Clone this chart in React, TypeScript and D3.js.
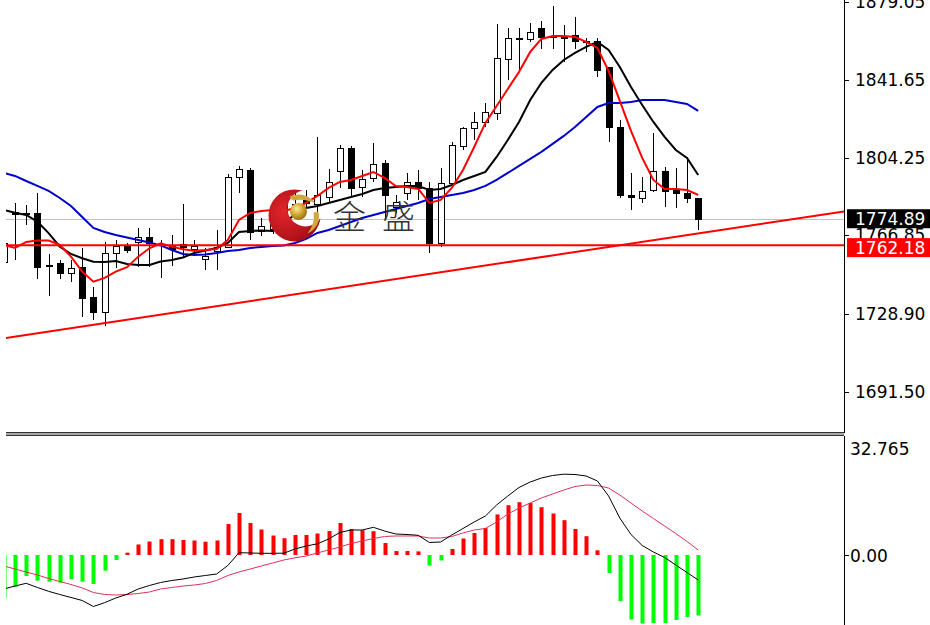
import * as d3 from "d3";

// candle index of the first entry (partly hidden behind the left edge)
const startIndex = -1;

const opens = [
  1754.09, 1778.15, 1777.67, 1777.67, 1752.4, 1753.61, 1748.79, 1751.68, 1737.24, 1730.03,
  1758.42, 1761.79, 1763.71, 1766.12, 1762.51, 1762.27, 1762.75, 1760.34, 1755.53, 1759.38,
  1761.31, 1794.99, 1798.36, 1769.0, 1769.97, 1778.15, 1782.0, 1783.92, 1782.0, 1785.37,
  1797.88, 1808.95, 1790.18, 1794.51, 1801.73, 1780.56, 1787.29, 1792.59, 1789.7, 1763.23,
  1792.11, 1809.91, 1818.57, 1821.46, 1825.79, 1851.78, 1861.64, 1861.4, 1866.7, 1862.6,
  1862.85, 1863.33, 1860.2, 1860.44, 1847.93, 1819.05, 1786.33, 1784.89, 1788.74, 1797.88,
  1788.74, 1787.29, 1784.89,
];
const highs = [
  1764.67, 1782.48, 1781.52, 1787.29, 1757.94, 1755.05, 1755.05, 1760.82, 1742.06, 1763.71,
  1764.67, 1763.23, 1770.45, 1770.45, 1764.67, 1767.08, 1782.0, 1764.67, 1760.82, 1769.49,
  1796.44, 1800.28, 1799.32, 1775.26, 1780.09, 1785.85, 1787.77, 1788.74, 1814.24, 1798.84,
  1810.39, 1809.91, 1798.36, 1811.35, 1803.17, 1786.33, 1796.92, 1798.36, 1792.59, 1799.32,
  1811.84, 1819.05, 1826.27, 1830.6, 1868.62, 1866.7, 1866.7, 1869.1, 1870.06, 1877.28,
  1868.14, 1871.99, 1861.88, 1861.88, 1847.93, 1822.42, 1796.92, 1794.99, 1816.17, 1799.8,
  1799.32, 1804.62, 1784.89,
];
const lows = [
  1752.64, 1755.05, 1771.89, 1745.91, 1737.73, 1745.91, 1744.46, 1727.62, 1726.18, 1723.29,
  1751.2, 1758.42, 1751.68, 1751.68, 1746.39, 1752.16, 1756.5, 1756.98, 1750.24, 1750.24,
  1760.82, 1787.29, 1764.67, 1766.6, 1767.56, 1774.3, 1777.67, 1780.56, 1777.67, 1782.96,
  1789.7, 1785.37, 1785.37, 1792.59, 1774.3, 1777.67, 1783.92, 1783.92, 1758.42, 1761.31,
  1790.18, 1807.99, 1812.8, 1819.05, 1822.42, 1841.67, 1845.52, 1859.96, 1856.59, 1856.59,
  1850.33, 1856.59, 1855.15, 1843.12, 1811.84, 1784.89, 1779.11, 1782.48, 1787.77, 1780.56,
  1780.09, 1782.48, 1769.49,
];
const closes = [
  1763.23, 1777.19, 1777.19, 1751.68, 1751.92, 1748.79, 1751.2, 1736.76, 1730.03, 1758.42,
  1761.79, 1759.86, 1766.12, 1763.23, 1762.03, 1760.34, 1761.31, 1761.79, 1756.98, 1761.31,
  1794.99, 1798.84, 1768.52, 1771.41, 1772.37, 1782.48, 1780.09, 1782.48, 1786.33, 1792.59,
  1808.95, 1789.7, 1794.03, 1801.25, 1786.33, 1782.96, 1792.59, 1789.7, 1763.23, 1792.11,
  1810.39, 1818.57, 1821.46, 1826.27, 1852.26, 1861.88, 1861.16, 1864.77, 1862.36, 1862.12,
  1861.88, 1860.44, 1859.72, 1846.48, 1819.05, 1786.33, 1785.37, 1788.26, 1797.88, 1788.26,
  1787.29, 1784.89, 1774.89,
];

// moving averages (fast red, middle black, slow blue)
const maFast = [
  1762.27, 1760.82, 1763.71, 1764.43, 1764.43, 1762.27, 1756.64, 1749.42, 1744.61, 1746.39,
  1749.42, 1751.54, 1756.64, 1760.68, 1763.08, 1761.45, 1760.2, 1759.52, 1759.86, 1760.34,
  1764.67, 1774.3, 1777.66, 1778.63, 1779.11, 1778.63, 1780.07, 1782.48, 1785.85, 1789.7,
  1792.58, 1793.54, 1795.47, 1797.39, 1794.51, 1790.66, 1790.18, 1789.21, 1782.48, 1783.92,
  1789.7, 1798.36, 1809.43, 1820.98, 1829.16, 1837.34, 1845.52, 1855.15, 1861.4, 1862.85,
  1862.85, 1862.36, 1859.96, 1857.07, 1846.0, 1831.57, 1817.13, 1804.14, 1793.54, 1789.21,
  1789.21, 1788.73, 1786.33,
];
const maMid = [
  1779.11, 1777.81, 1776.7, 1773.48, 1767.98, 1761.45, 1757.93, 1755.87, 1754.23, 1754.09,
  1754.57, 1753.12, 1752.64, 1752.64, 1754.33, 1755.05, 1756.25, 1758.42, 1759.62, 1760.82,
  1763.23, 1768.52, 1769.0, 1769.24, 1769.0, 1772.37, 1777.18, 1780.07, 1781.03, 1782.48,
  1783.92, 1785.36, 1786.81, 1788.73, 1789.7, 1790.18, 1790.66, 1790.66, 1788.73, 1789.21,
  1791.14, 1793.54, 1795.47, 1797.39, 1804.62, 1812.8, 1821.46, 1832.05, 1840.23, 1846.48,
  1851.3, 1854.67, 1857.55, 1859.96, 1856.11, 1847.93, 1838.3, 1829.64, 1821.46, 1814.24,
  1807.99, 1804.14, 1795.96,
];
const maSlow = [
  1796.91, 1795.47, 1793.06, 1790.66, 1788.25, 1784.88, 1781.03, 1775.74, 1770.45, 1768.52,
  1767.08, 1765.87, 1764.67, 1763.47, 1762.03, 1759.86, 1757.94, 1757.45, 1757.69, 1758.42,
  1759.38, 1759.86, 1760.82, 1761.31, 1761.79, 1762.03, 1763.23, 1765.16, 1768.04, 1769.49,
  1771.41, 1773.33, 1775.26, 1776.7, 1778.15, 1779.59, 1781.03, 1782.48, 1784.4, 1785.36,
  1786.33, 1787.29, 1788.73, 1790.66, 1793.54, 1796.91, 1800.28, 1803.65, 1807.03, 1810.88,
  1814.73, 1819.06, 1823.87, 1828.68, 1830.61, 1830.61, 1831.09, 1832.05, 1832.05, 1832.05,
  1831.09, 1830.12, 1826.76,
];

// MACD sub window
const macdHist = [
  -11.94, -8.8, -5.83, -7.14, -7.41, -7.69, -6.75, -7.41, -8.05, -4.36,
  -1.39, 0.65, 2.92, 3.75, 4.39, 4.39, 4.17, 4.03, 3.69, 4.03,
  8.61, 11.66, 8.89, 7.08, 5.41, 4.66, 5.55, 5.55, 5.97, 6.66,
  8.89, 7.22, 6.89, 6.61, 3.33, 1.1, 1.1, 1.0, -2.92, -1.53,
  1.67, 4.58, 6.11, 7.5, 11.25, 13.83, 14.66, 14.44, 13.27, 11.52,
  9.66, 7.22, 5.22, 1.3, -5.0, -12.83, -17.91, -19.02, -18.88, -18.88,
  -18.05, -17.22, -16.8,
];
const macdMain = [
  -9.44, -8.61, -7.86, -9.02, -10.08, -10.97, -11.8, -12.63, -14.3, -13.24,
  -11.94, -10.91, -9.44, -8.47, -7.64, -7.08, -6.66, -6.11, -5.69, -5.28,
  -2.92, 0.64, 0.56, 0.47, 0.47, 0.5, 1.67, 2.5, 3.11, 4.44,
  6.25, 6.94, 6.94, 7.69, 6.66, 5.83, 5.69, 5.47, 3.47, 3.61,
  5.55, 7.36, 9.16, 10.83, 13.88, 16.38, 18.74, 20.27, 21.38, 22.07,
  22.44, 22.35, 21.94, 20.55, 16.38, 10.27, 5.69, 2.64, 0.83, -0.69,
  -2.78, -4.86, -6.94,
];
const macdSignal = [
  -3.05, -3.89, -4.72, -5.55, -6.53, -7.36, -8.19, -9.16, -10.41, -10.97,
  -11.11, -10.97, -10.69, -10.27, -9.44, -9.02, -8.61, -8.33, -7.91, -7.08,
  -5.69, -4.72, -3.89, -3.05, -2.22, -1.39, -0.78, -0.28, 0.56, 1.39,
  2.22, 3.19, 3.89, 4.58, 5.14, 5.28, 5.28, 5.28, 4.72, 4.72,
  5.14, 6.11, 6.94, 7.36, 9.16, 11.38, 13.05, 14.44, 15.83, 16.94,
  18.05, 19.02, 19.44, 19.3, 18.6, 16.66, 14.44, 12.22, 10.13, 8.05,
  5.97, 3.75, 1.39,
];

const priceTicks = [1879.05, 1841.65, 1804.25, 1766.85, 1728.9, 1691.5];
const priceTickLabels = ["1879.05", "1841.65", "1804.25", "1766.85", "1728.90", "1691.50"];
const macdTicks = [32.765, 0];
const macdTickLabels = ["32.765", "0.00"];

const currentPrice = 1774.89;
const supportPrice = 1762.18;
// trend line through two anchor points (candle index, price)
const trendAnchors = [
  { i: 8, p: 1724.7 },
  { i: 60, p: 1767.0 },
];

const W = 930;
const H = 625;
const plotLeft = 6;
const axisX = 844;
const mainBottom = 432;
const macdTop = 436;
const FONT = "'DejaVu Sans', Verdana, sans-serif";

export default function App() {
  const x = d3.scaleLinear().domain([0, 61]).range([15, 698.2]);
  const y = d3.scaleLinear().domain([1691.5, 1841.65]).range([392, 80]);
  const m = d3.scaleLinear().domain([0, 32.765]).range([555, 437]);

  const idx = closes.map((_, k) => startIndex + k);

  const priceLine = d3
    .line<number>()
    .x((_, k) => x(idx[k]))
    .y((v) => y(v));
  const macdLine = d3
    .line<number>()
    .x((_, k) => x(idx[k]))
    .y((v) => m(v));

  const slope = (trendAnchors[1].p - trendAnchors[0].p) / (trendAnchors[1].i - trendAnchors[0].i);
  const trendAt = (i: number) => trendAnchors[0].p + slope * (i - trendAnchors[0].i);
  const tI0 = x.invert(plotLeft);
  const tI1 = x.invert(axisX);

  // watermark anchor
  const lx = x(25) - 0.5;
  const ly = y(1776.5);

  return (
    <svg
      width={W}
      height={H}
      style={{ position: "absolute", left: 0, top: 0, background: "#fff" }}
    >
      <defs>
        <clipPath id="mainClip">
          <rect x={plotLeft} y={0} width={axisX - plotLeft} height={mainBottom} />
        </clipPath>
        <clipPath id="macdClip">
          <rect x={plotLeft} y={macdTop + 1} width={axisX - plotLeft} height={H - macdTop} />
        </clipPath>
        <radialGradient id="redMoon" cx="38%" cy="45%" r="65%">
          <stop offset="0%" stopColor="#e0262c" />
          <stop offset="55%" stopColor="#b3121a" />
          <stop offset="100%" stopColor="#6e070b" />
        </radialGradient>
        <radialGradient id="goldBall" cx="40%" cy="35%" r="65%">
          <stop offset="0%" stopColor="#fbe9a0" />
          <stop offset="50%" stopColor="#d8ae38" />
          <stop offset="100%" stopColor="#9a740e" />
        </radialGradient>
        <mask id="moonMask">
          <rect x={-40} y={-40} width={80} height={80} fill="#000" />
          <circle cx={0} cy={0} r={26} fill="#fff" />
          <circle cx={11} cy={-7} r={18} fill="#000" />
        </mask>
      </defs>

      <rect x={0} y={0} width={W} height={H} fill="#fff" />

      {/* main price window */}
      <g clipPath="url(#mainClip)">
        <line
          x1={plotLeft}
          x2={axisX}
          y1={Math.round(y(currentPrice)) + 0.5}
          y2={Math.round(y(currentPrice)) + 0.5}
          stroke="#c0c0c0"
          strokeWidth={1}
        />
        {idx.map((i, k) => {
          const cx = Math.round(x(i));
          const o = opens[k];
          const c = closes[k];
          const top = Math.round(y(Math.max(o, c)));
          const bot = Math.round(y(Math.min(o, c)));
          const up = c >= o;
          return (
            <g key={i}>
              <line
                x1={cx + 0.5}
                x2={cx + 0.5}
                y1={Math.round(y(highs[k]))}
                y2={Math.round(y(lows[k]))}
                stroke="#000"
                strokeWidth={1}
              />
              <rect
                x={cx - 2.5}
                y={top + 0.5}
                width={6}
                height={Math.max(bot - top, 1)}
                fill={up ? "#fff" : "#000"}
                stroke="#000"
                strokeWidth={1}
              />
            </g>
          );
        })}
        <path d={priceLine(maSlow) ?? ""} fill="none" stroke="#0000cc" strokeWidth={2} />
        <path d={priceLine(maMid) ?? ""} fill="none" stroke="#000" strokeWidth={2} />
        <path d={priceLine(maFast) ?? ""} fill="none" stroke="#ff0000" strokeWidth={2} />
        <line
          x1={plotLeft}
          x2={axisX}
          y1={y(supportPrice)}
          y2={y(supportPrice)}
          stroke="#ff0000"
          strokeWidth={2}
        />
        <line
          x1={x(tI0)}
          x2={x(tI1)}
          y1={y(trendAt(tI0))}
          y2={y(trendAt(tI1))}
          stroke="#ff0000"
          strokeWidth={2}
        />

        {/* watermark */}
        <g transform={`translate(${lx},${ly})`}>
          <rect x={-40} y={-40} width={80} height={80} fill="url(#redMoon)" mask="url(#moonMask)" />
          <path d="M -5 -19 Q 11 -25 21 -12 Q 11 -17 -2 -15 Z" fill="#cfa73e" />
          <path d="M 24 -4 Q 27 11 13 18 Q 21 8 19 -3 Z" fill="#cfa73e" />
          <circle cx={4} cy={-4} r={8.5} fill="url(#goldBall)" />
        </g>
        <text
          x={lx + 55}
          y={ly}
          fontFamily="'Noto Sans CJK SC', sans-serif"
          fontSize={33}
          fontWeight={300}
          fill="#333"
          textAnchor="middle"
          dominantBaseline="central"
        >
          金
        </text>
        <text
          x={lx + 104}
          y={ly}
          fontFamily="'Noto Sans CJK SC', sans-serif"
          fontSize={33}
          fontWeight={300}
          fill="#333"
          textAnchor="middle"
          dominantBaseline="central"
        >
          盛
        </text>
      </g>

      {/* window separator */}
      <rect x={plotLeft} y={432} width={axisX - plotLeft} height={4} fill="#a8a8a8" />
      <line x1={plotLeft} x2={axisX} y1={432.5} y2={432.5} stroke="#333" />
      <line x1={plotLeft} x2={axisX} y1={435.5} y2={435.5} stroke="#333" />

      {/* MACD window */}
      <g clipPath="url(#macdClip)">
        {idx.map((i, k) => {
          const v = macdHist[k];
          const cx = Math.round(x(i));
          const y0 = m(0);
          const y1 = m(v);
          return (
            <rect
              key={i}
              x={cx - 1.5}
              y={Math.min(y0, y1)}
              width={4}
              height={Math.abs(y1 - y0)}
              fill={v >= 0 ? "#ff0000" : "#00ff00"}
            />
          );
        })}
        <path d={macdLine(macdSignal) ?? ""} fill="none" stroke="#e0305a" strokeWidth={1} />
        <path d={macdLine(macdMain) ?? ""} fill="none" stroke="#000" strokeWidth={1} />
      </g>

      {/* price axis */}
      <line x1={axisX + 0.5} x2={axisX + 0.5} y1={0} y2={mainBottom + 1} stroke="#000" />
      <line x1={axisX + 0.5} x2={axisX + 0.5} y1={macdTop} y2={H} stroke="#000" />
      {priceTicks.map((p, k) => (
        <g key={p}>
          <line
            x1={axisX}
            x2={axisX + 5}
            y1={Math.round(y(p)) + 0.5}
            y2={Math.round(y(p)) + 0.5}
            stroke="#000"
          />
          <text
            x={855}
            y={y(p)}
            fontFamily={FONT}
            fontSize={17}
            fill="#000"
            dominantBaseline="central"
          >
            {priceTickLabels[k]}
          </text>
        </g>
      ))}

      <rect x={847} y={y(currentPrice) - 9.5} width={83} height={19} fill="#000" />
      <text
        x={855}
        y={y(currentPrice) + 0.5}
        fontFamily={FONT}
        fontSize={17}
        fill="#fff"
        dominantBaseline="central"
      >
        {currentPrice.toFixed(2)}
      </text>
      <rect x={847} y={y(supportPrice) - 7} width={83} height={19} fill="#ff0000" />
      <text
        x={855}
        y={y(supportPrice) + 3}
        fontFamily={FONT}
        fontSize={17}
        fill="#fff"
        dominantBaseline="central"
      >
        {supportPrice.toFixed(2)}
      </text>

      {macdTicks.map((v, k) => (
        <g key={v}>
          {v === 0 && (
            <line x1={axisX} x2={axisX + 5} y1={m(v) + 0.5} y2={m(v) + 0.5} stroke="#000" />
          )}
          <text
            x={850}
            y={v === 0 ? m(v) + 1 : m(v) + 12}
            fontFamily={FONT}
            fontSize={17}
            fill="#000"
            dominantBaseline="central"
          >
            {macdTickLabels[k]}
          </text>
        </g>
      ))}
    </svg>
  );
}
